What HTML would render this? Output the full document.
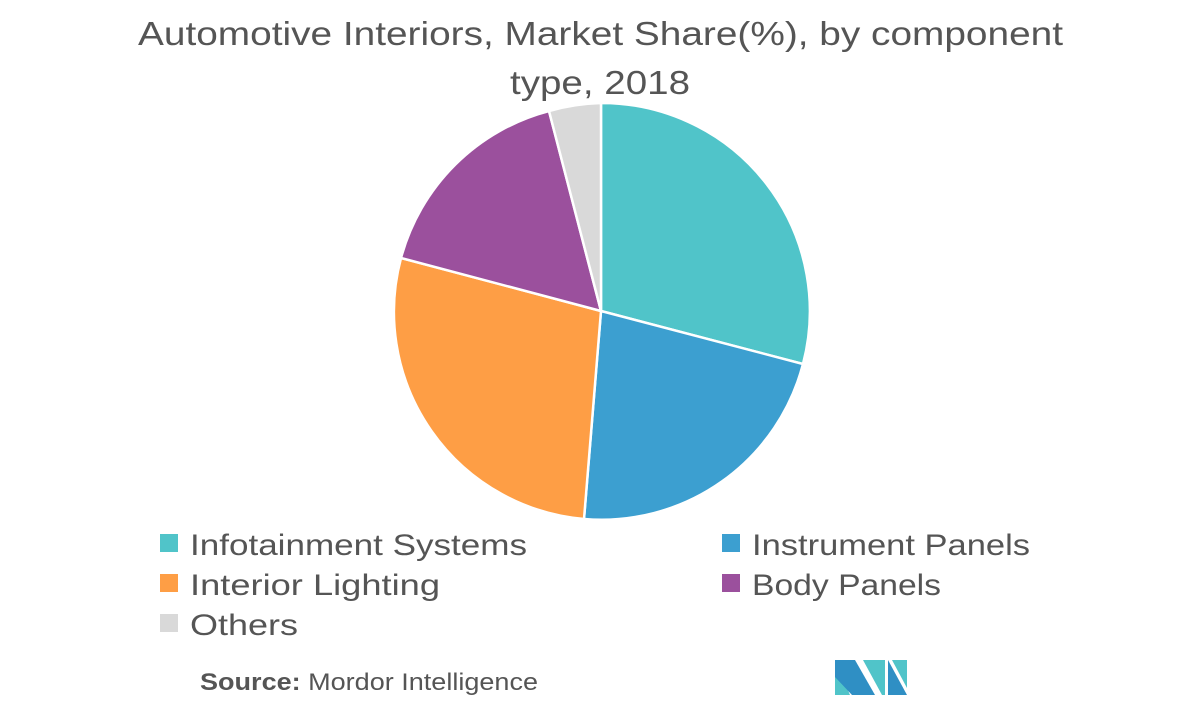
<!DOCTYPE html>
<html><head><meta charset="utf-8"><style>
body{margin:0;background:#fff;width:1200px;height:721px;overflow:hidden;font-family:"Liberation Sans",sans-serif}
</style></head><body>
<svg width="1200" height="721" xmlns="http://www.w3.org/2000/svg" style="font-family:'Liberation Sans',sans-serif">
<text x="138" y="45" font-size="33" fill="#555" textLength="925" lengthAdjust="spacingAndGlyphs">Automotive Interiors, Market Share(%), by component</text>
<text x="510" y="94" font-size="33" fill="#555" textLength="180" lengthAdjust="spacingAndGlyphs">type, 2018</text>
<g stroke="#fff" stroke-width="2.5">
<path d="M601,311 L601,103 A208,208 0 0 1 803,364 Z" fill="#50c4c9"/>
<path d="M601,311 L803,364 A208,208 0 0 1 584,519 Z" fill="#3c9fd0"/>
<path d="M601,311 L584,519 A208,208 0 0 1 401,258 Z" fill="#fe9e45"/>
<path d="M601,311 L401,258 A208,208 0 0 1 549,111 Z" fill="#9b509d"/>
<path d="M601,311 L549,111 A208,208 0 0 1 601,103 Z" fill="#d9d9d9"/>
</g>
<g font-size="30" fill="#555">
<rect x="160" y="534" width="18" height="18" fill="#50c4c9"/><text x="190" y="555" textLength="337" lengthAdjust="spacingAndGlyphs">Infotainment Systems</text>
<rect x="722" y="534" width="18" height="18" fill="#3c9fd0"/><text x="752" y="555" textLength="278" lengthAdjust="spacingAndGlyphs">Instrument Panels</text>
<rect x="160" y="574" width="18" height="18" fill="#fe9e45"/><text x="190" y="595" textLength="250" lengthAdjust="spacingAndGlyphs">Interior Lighting</text>
<rect x="722" y="574" width="18" height="18" fill="#9b509d"/><text x="752" y="595" textLength="189" lengthAdjust="spacingAndGlyphs">Body Panels</text>
<rect x="160" y="614" width="18" height="18" fill="#d9d9d9"/><text x="190" y="635" textLength="108" lengthAdjust="spacingAndGlyphs">Others</text>
</g>
<text x="200" y="690" font-size="24" fill="#555" textLength="338" lengthAdjust="spacingAndGlyphs"><tspan font-weight="bold">Source:</tspan> Mordor Intelligence</text>
<polygon points="835,660 835,695 850,695" fill="#50c4c9"/>
<polygon points="835,660 855,660 875,695 852,695 835,677" fill="#2f8fc4"/>
<polygon points="863,660 885,660 885,695 882,695" fill="#50c4c9"/>
<polygon points="888,660 888,695 907,695" fill="#2f8fc4"/>
<polygon points="892,660 907,660 907,688" fill="#50c4c9"/>
</svg>
</body></html>
